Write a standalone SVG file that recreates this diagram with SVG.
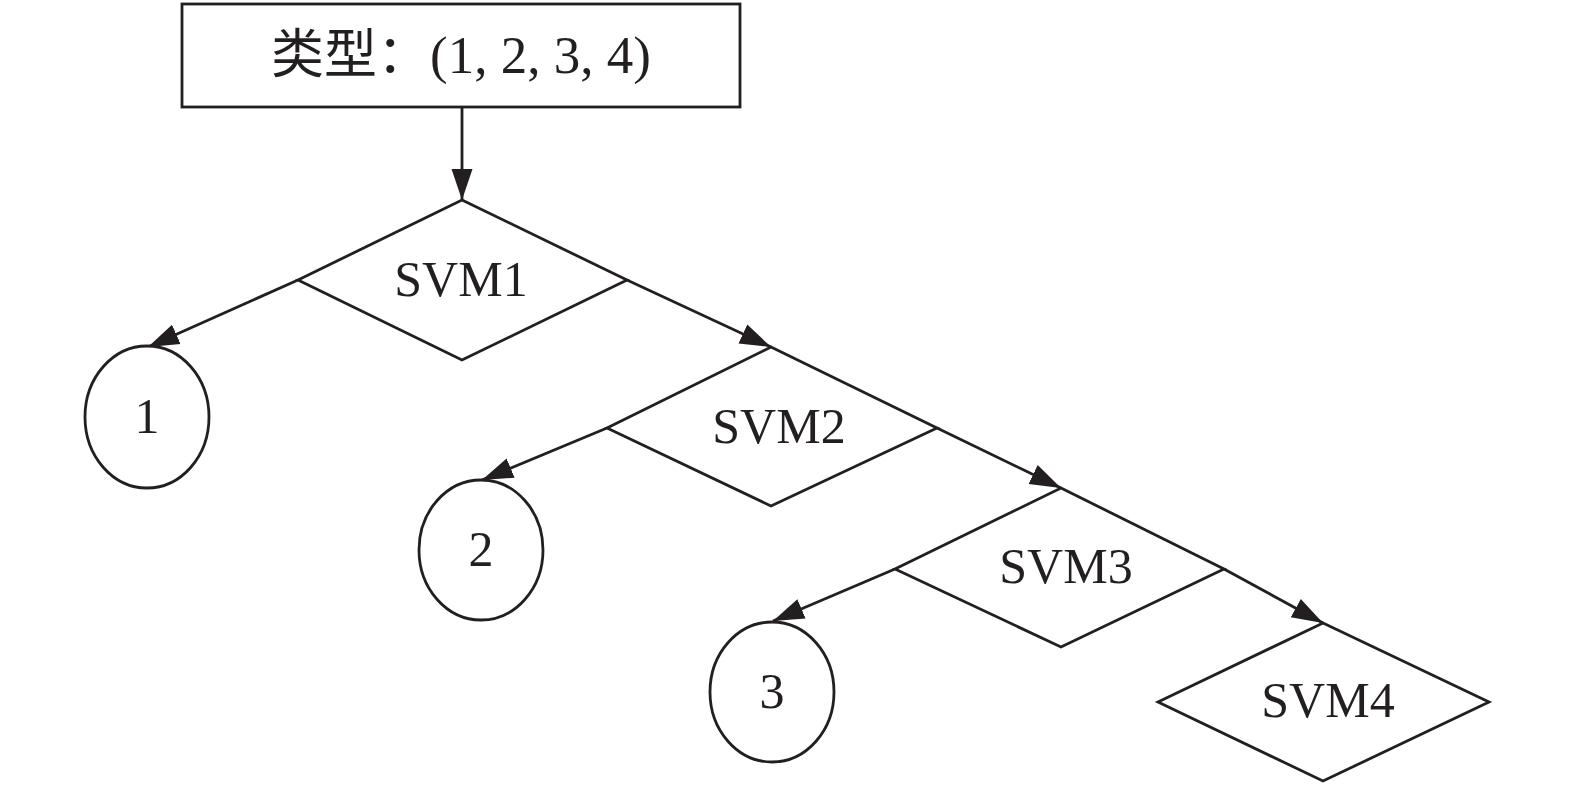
<svg xmlns="http://www.w3.org/2000/svg" width="1575" height="787" viewBox="0 0 1575 787">
<defs>
<marker id="arr" markerUnits="userSpaceOnUse" markerWidth="32" markerHeight="24" viewBox="0 0 32 24" refX="31" refY="12" orient="auto">
<path d="M0,1.5 L31,12 L0,22.5 Z" fill="#231f20"/>
</marker>
<style>
.n{fill:#fff;stroke:#231f20;stroke-width:2.8}
.t{font-family:"Liberation Serif","Noto Sans CJK SC",serif;font-size:50px;fill:#231f20;text-anchor:middle}
.top{font-size:53px}
.e{fill:none;stroke:#231f20;stroke-width:2.8;marker-end:url(#arr)}
</style>
</defs>
<rect width="1575" height="787" fill="#fff"/>
<g id="connectors">
<line class="e" x1="462" y1="107" x2="462" y2="200"/>
<line class="e" x1="298" y1="280" x2="148" y2="347"/>
<line class="e" x1="627" y1="280" x2="771" y2="347"/>
<line class="e" x1="607" y1="428" x2="482" y2="480"/>
<line class="e" x1="937" y1="428" x2="1061" y2="488"/>
<line class="e" x1="895" y1="569" x2="773" y2="621"/>
<line class="e" x1="1224" y1="569" x2="1323" y2="623"/>
</g>
<g id="root">
<rect class="n" x="182" y="4" width="558" height="103"/>
<text class="t top" x="461" y="73">类型：(1, 2, 3, 4)</text>
</g>
<g id="svm1">
<polygon class="n" points="462,200 627,280 462,360 298,280"/>
<text class="t" x="461" y="296">SVM1</text>
</g>
<g id="c1">
<ellipse class="n" cx="147" cy="417" rx="62" ry="71"/>
<text class="t" x="147" y="433">1</text>
</g>
<g id="svm2">
<polygon class="n" points="771,347 937,428 771,506 607,428"/>
<text class="t" x="779" y="443">SVM2</text>
</g>
<g id="c2">
<ellipse class="n" cx="481" cy="550" rx="62" ry="70"/>
<text class="t" x="481" y="566">2</text>
</g>
<g id="svm3">
<polygon class="n" points="1061,488 1224,569 1061,647 895,569"/>
<text class="t" x="1066" y="583">SVM3</text>
</g>
<g id="c3">
<ellipse class="n" cx="772" cy="692" rx="62" ry="70"/>
<text class="t" x="772" y="708">3</text>
</g>
<g id="svm4">
<polygon class="n" points="1323,623 1489,702 1323,781 1158,702"/>
<text class="t" x="1328" y="717">SVM4</text>
</g>
</svg>
